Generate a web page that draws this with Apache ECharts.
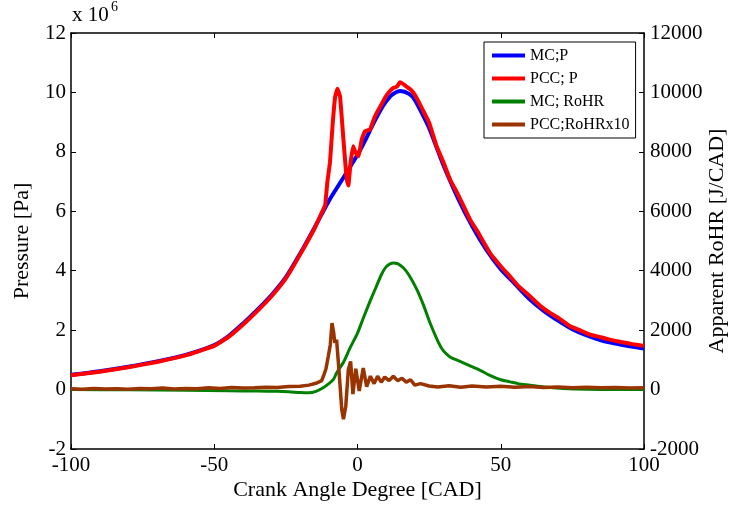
<!DOCTYPE html>
<html>
<head>
<meta charset="utf-8">
<script src="https://cdn.jsdelivr.net/npm/echarts@6/dist/echarts.min.js"></script>
<style>
html,body{margin:0;padding:0;background:#fff;}
#chart{width:731px;height:505px;}
</style>
</head>
<body>
<div id="chart"></div>
<script>
// ---- data (pressure in units of 10^6 Pa, RoHR in J/CAD) ----
var seriesNames = ['MC;P', 'PCC; P', 'MC; RoHR', 'PCC;RoHRx10'];
var xTicks = [-100, -50, 0, 50, 100];
var leftTicks = [-2, 0, 2, 4, 6, 8, 10, 12];
var rightTicks = [-2000, 0, 2000, 4000, 6000, 8000, 10000, 12000];

var mcPCad = [-100,-90,-80,-70,-60,-50,-45,-40,-35,-30,-25,-20,-15,-10,-5,0,3,5,8,10,12,15,18,20,23,25,28,30,35,40,45,50,55,60,65,70,75,80,85,90,95,100];
var mcP = [0.50,0.62,0.77,0.95,1.17,1.50,1.80,2.22,2.68,3.18,3.78,4.58,5.45,6.35,7.12,7.90,8.45,8.85,9.40,9.70,9.92,10.05,9.95,9.75,9.20,8.80,8.05,7.55,6.45,5.50,4.70,4.05,3.55,3.05,2.65,2.32,2.03,1.82,1.66,1.55,1.46,1.38];

var pccPCad = [-100,-90,-80,-70,-60,-50,-45,-40,-35,-30,-25,-20,-15,-12.5,-11.3,-10.5,-9.6,-8.7,-7.8,-7.0,-6.1,-4.9,-3.8,-3.2,-2.4,-1.5,-0.8,0.3,1.5,2.6,4.4,5.5,6.7,8.4,9.5,10.8,12.5,13.8,14.8,16,17.2,18.5,19.5,21,23,25,27.6,30,32.3,35,39.3,42,46.2,50,53.2,56,60.2,64,67.2,70,74.2,78,81.2,85,88.1,92,96,100];
var pccP = [0.48,0.60,0.75,0.93,1.15,1.47,1.77,2.18,2.64,3.14,3.74,4.55,5.42,5.95,6.20,7.00,7.65,8.90,9.85,10.12,9.87,8.40,7.10,6.87,7.65,8.19,8.00,7.85,8.42,8.69,8.75,9.05,9.31,9.60,9.80,9.99,10.15,10.20,10.34,10.28,10.19,10.10,9.99,9.75,9.37,8.98,8.19,7.65,7.07,6.58,5.72,5.30,4.60,4.15,3.81,3.50,3.14,2.80,2.58,2.42,2.13,1.98,1.85,1.76,1.68,1.60,1.53,1.47];

var mcRCad = [-100,-80,-60,-45,-35,-28,-24,-20,-17,-14.5,-12,-10,-8.4,-7.3,-5,-2.6,0,2,4.5,6.7,8.5,10.2,12.5,14,16,18,20.7,23,25.3,28.2,30,32.3,35,39.3,43,46.2,50,53.2,56,60.2,65,71.7,80,90,100];
var mcR = [0,-10,-20,-40,-50,-60,-75,-100,-110,-60,60,200,340,560,900,1400,1900,2400,3000,3500,3900,4150,4260,4240,4100,3850,3370,2850,2250,1600,1300,1100,980,800,640,480,330,260,200,150,90,40,10,0,0];

var pccRCad = [-100,-96,-92,-88,-84,-80,-76,-72,-68,-64,-60,-56,-52,-48,-44,-40,-36,-32,-28,-24,-20,-17,-14.2,-12.5,-11.9,-11,-10.2,-9.5,-8.9,-8.3,-7.9,-7.3,-6.4,-5.5,-4.9,-4.1,-3.2,-2.4,-1.6,-0.6,0.6,2,3.2,4.5,5.8,7,8.3,9.5,11,12.5,14,15.5,17,18.5,20,22,25,28,32,36,40,45,50,55,60,65,70,75,80,85,90,95,100];
var pccR = [30,10,40,20,30,10,40,30,50,20,40,30,60,40,70,50,60,80,70,100,110,150,220,300,450,700,1120,1500,2240,1900,1570,1680,560,-670,-1000,-560,670,950,-150,700,-50,720,100,450,200,450,250,420,300,450,300,380,250,330,150,200,120,90,130,80,120,90,110,80,100,70,90,60,80,60,70,50,60];

function zip(xs, ys) { return xs.map(function (x, i) { return [x, ys[i]]; }); }

var FONT = '"Liberation Serif", "Times New Roman", serif';
var chart = echarts.init(document.getElementById('chart'), null, {renderer: 'canvas'});

var axisLineStyle = {show: true, onZero: false, lineStyle: {color: '#000', width: 1.5}};
var tickStyle = {show: true, inside: true, length: 5, lineStyle: {color: '#000', width: 1}};
var plain = function (v) { return String(v); };

chart.setOption({
  animation: false,
  backgroundColor: '#fff',
  grid: {left: 71, right: 87, top: 33, bottom: 56, containLabel: false, outerBoundsMode: 'none'},
  legend: {
    orient: 'vertical',
    left: 484, top: 42,
    data: seriesNames,
    icon: 'rect',
    itemWidth: 33, itemHeight: 4, itemGap: 6,
    padding: [5, 6, 5, 8],
    borderColor: '#000', borderWidth: 1, borderRadius: 0,
    backgroundColor: '#fff',
    textStyle: {fontFamily: FONT, fontSize: 16, color: '#000', lineHeight: 17}
  },
  graphic: [
    {type: 'text', left: 72, top: 5, style: {text: 'x 10', font: '21px ' + FONT, fill: '#000'}},
    {type: 'text', left: 111, top: 0, style: {text: '6', font: '14px ' + FONT, fill: '#000'}}
  ],
  xAxis: [
    {
      type: 'value', position: 'bottom', min: xTicks[0], max: xTicks[xTicks.length - 1], interval: 50,
      axisLine: axisLineStyle, axisTick: tickStyle, splitLine: {show: false},
      axisLabel: {color: '#000', fontFamily: FONT, fontSize: 21, margin: 6, formatter: plain},
      name: 'Crank Angle Degree [CAD]', nameLocation: 'middle', nameGap: 30, nameMoveOverlap: false,
      nameTextStyle: {color: '#000', fontFamily: FONT, fontSize: 22}
    },
    {
      type: 'value', position: 'top', min: xTicks[0], max: xTicks[xTicks.length - 1], interval: 50,
      axisLine: axisLineStyle, axisTick: tickStyle, splitLine: {show: false},
      axisLabel: {show: false}
    }
  ],
  yAxis: [
    {
      type: 'value', position: 'left', min: leftTicks[0], max: leftTicks[leftTicks.length - 1], interval: 2,
      axisLine: axisLineStyle, axisTick: tickStyle, splitLine: {show: false},
      axisLabel: {color: '#000', fontFamily: FONT, fontSize: 21, margin: 5, formatter: plain},
      name: 'Pressure [Pa]', nameLocation: 'middle', nameGap: 38, nameRotate: 90, nameMoveOverlap: false,
      nameTextStyle: {color: '#000', fontFamily: FONT, fontSize: 22}
    },
    {
      type: 'value', position: 'right', min: rightTicks[0], max: rightTicks[rightTicks.length - 1], interval: 2000,
      axisLine: axisLineStyle, axisTick: tickStyle, splitLine: {show: false},
      axisLabel: {color: '#000', fontFamily: FONT, fontSize: 21, margin: 6, formatter: plain},
      name: 'Apparent RoHR [J/CAD]', nameLocation: 'middle', nameGap: 62, nameRotate: 90, nameMoveOverlap: false,
      nameTextStyle: {color: '#000', fontFamily: FONT, fontSize: 22}
    }
  ],
  series: [
    {name: seriesNames[0], type: 'line', xAxisIndex: 0, yAxisIndex: 0, data: zip(mcPCad, mcP),
     showSymbol: false, symbol: 'none', smooth: 0.25, color: '#0000ff', lineStyle: {width: 4, color: '#0000ff'}},
    {name: seriesNames[1], type: 'line', xAxisIndex: 0, yAxisIndex: 0, data: zip(pccPCad, pccP),
     showSymbol: false, symbol: 'none', smooth: 0.1, color: '#ff0000', lineStyle: {width: 4, color: '#ff0000'}},
    {name: seriesNames[2], type: 'line', xAxisIndex: 0, yAxisIndex: 1, data: zip(mcRCad, mcR),
     showSymbol: false, symbol: 'none', smooth: 0.25, color: '#008000', lineStyle: {width: 3, color: '#008000'}},
    {name: seriesNames[3], type: 'line', xAxisIndex: 0, yAxisIndex: 1, data: zip(pccRCad, pccR),
     showSymbol: false, symbol: 'none', smooth: false, color: '#993300', lineStyle: {width: 3.5, color: '#993300'}}
  ]
});
</script>
</body>
</html>
